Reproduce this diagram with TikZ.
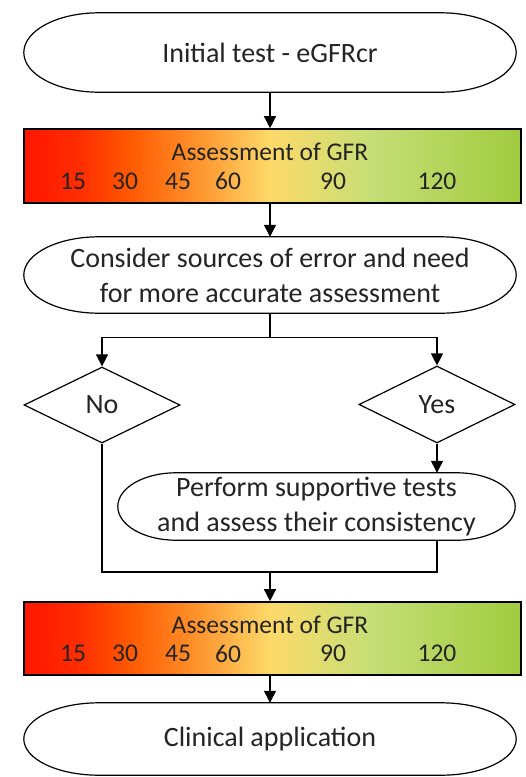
\documentclass[tikz,border=0pt]{standalone}
\usepackage{fontspec}
\setmainfont{Carlito}
\usetikzlibrary{shapes.geometric,arrows.meta,calc}

% colour ramp of the GFR scale
\definecolor{gfrA}{RGB}{255,22,0}
\definecolor{gfrB}{RGB}{255,45,0}
\definecolor{gfrC}{RGB}{255,88,0}
\definecolor{gfrD}{RGB}{255,148,45}
\definecolor{gfrE}{RGB}{253,218,105}
\definecolor{gfrF}{RGB}{198,222,118}
\definecolor{gfrG}{RGB}{160,204,62}
\definecolor{txt}{RGB}{36,36,36}
% the filled path covers 25bp..75bp of the shading
\pgfdeclarehorizontalshading{gfrscale}{100bp}{%
  color(0bp)=(gfrA); color(25bp)=(gfrA); color(30.5bp)=(gfrB);
  color(35.5bp)=(gfrC); color(42.5bp)=(gfrD); color(49.75bp)=(gfrE);
  color(60bp)=(gfrF); color(75bp)=(gfrG); color(100bp)=(gfrG)}

\tikzset{
  lbl/.style={font=\fontsize{28}{35}\selectfont, text=txt, align=center},
  scalelbl/.style={font=\fontsize{25.5}{30}\selectfont, text=txt},
  term/.style={rectangle, draw=none, inner sep=0pt, lbl},
  gfrbar/.style={rectangle, draw=black, line width=1.6pt, shading=gfrscale, inner sep=0pt},
  choice/.style={diamond, draw=black, line width=1.2pt, inner sep=0pt, lbl},
  link/.style={draw=black, line width=1.3pt},
  arr/.style={link, -{Triangle[width=12pt,length=12pt]}},
  outline/.style={draw=black, line width=1.2pt}
}

% terminator outline with elliptic ends around a named node
\newcommand\termoutline[2]{%
  \path let \p1=(#1.north east), \p2=(#1.south west) in
    \pgfextra{\pgfmathsetmacro\ry{(\y1-\y2)/2}}
    [outline] ([xshift=#2]#1.north west) -- ([xshift=-#2]#1.north east)
    arc[start angle=90, end angle=-90, x radius=#2, y radius=\ry pt]
    -- ([xshift=#2]#1.south west)
    arc[start angle=270, end angle=90, x radius=#2, y radius=\ry pt] -- cycle;}

\begin{document}
\begin{tikzpicture}[x=1pt,y=1pt]
\useasboundingbox (0,0) rectangle (526,-777);

% boxes
\node[term, minimum width=492pt, minimum height=79pt] (init) at (270,-52.5) {Initial test - eGFRcr};
\node[gfrbar, minimum width=497pt, minimum height=74pt] (bar1) at (272.5,-166) {};
\node[term, minimum width=492pt, minimum height=76pt] (cons) at (270,-275)
  {Consider sources of error and need\\for more accurate assessment};
\node[choice, minimum width=156pt, minimum height=76pt] (no) at (102,-405) {No};
\node[choice, minimum width=156pt, minimum height=77pt] (yes) at (437,-404.5) {Yes};
\node[term, minimum width=397pt, minimum height=67pt] (perf) at (316.5,-506.5)
  {Perform supportive tests\\and assess their consistency};
\node[gfrbar, minimum width=497pt, minimum height=73pt] (bar2) at (272.5,-638.5) {};
\node[term, minimum width=492pt, minimum height=72pt] (clin) at (270,-739) {Clinical application};

\termoutline{init}{75pt}
\termoutline{cons}{75pt}
\termoutline{perf}{58pt}
\termoutline{clin}{75pt}

% scale labels on both bars
\foreach \b/\yo in {bar1/-166, bar2/-638.5}{
  \node[scalelbl] (\b-title) at (270,\yo+14) {Assessment of GFR};
  \foreach \v/\xv in {15/73, 30/125, 45/178, 60/228, 90/333, 120/437}
    \node[scalelbl] (\b-\v) at (\xv,\yo-15) {\v};
}

% connectors
\draw[arr] (init.south) -- (init.south |- bar1.north);
\draw[arr] (cons.north |- bar1.south) -- (cons.north);
\draw[link] (cons.south) -- ++(0,-24) coordinate (split);
\draw[arr] (split) -| (no.north);
\draw[arr] (split) -| (yes.north);
\draw[arr] (yes.south) -- (yes.south |- perf.north);
\coordinate (join) at (270,-572);
\draw[link] (no.south) |- (join) -| (yes.south |- perf.south);
\draw[arr] (join) -- (join |- bar2.north);
\draw[arr] (clin.north |- bar2.south) -- (clin.north);
\end{tikzpicture}
\end{document}
